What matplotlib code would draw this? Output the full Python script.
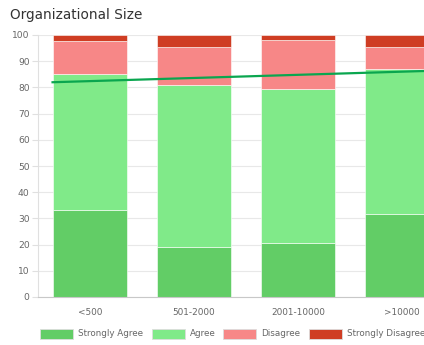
import numpy as np
import matplotlib.pyplot as plt
from matplotlib.patches import Rectangle

# Data (percent of respondents)
categories = ['<500', '501-2000', '2001-10000', '>10000']
strongly_agree = [33.3, 19.1, 20.7, 31.7]
agree = [51.7, 61.9, 58.7, 55.2]
disagree = [12.7, 14.4, 18.8, 8.4]
strongly_disagree = [2.3, 4.6, 1.8, 4.7]
trend = [82.4, 83.6, 84.8, 86.0]

series_names = ['Strongly Agree', 'Agree', 'Disagree', 'Strongly Disagree']
colors = ['#62cd66', '#80ea89', '#f78787', '#cf3d23']

W, H = 424, 345
fig = plt.figure(figsize=(W / 100, H / 100), dpi=100)
# plot area runs off the right edge, as in the reference
ax = fig.add_axes([38 / W, (H - 297) / H, 416 / W, 262 / H])

x = np.arange(len(categories))
bottom = np.zeros(len(categories))
for vals, col in zip([strongly_agree, agree, disagree, strongly_disagree], colors):
    ax.bar(x, vals, width=0.72, bottom=bottom, color=col,
           edgecolor='#ffffff', linewidth=0.4, zorder=2)
    bottom += np.array(vals)

# linear trend line
coef = np.polyfit(x, trend, 1)
xt = np.array([-0.36, 3.5])
ax.plot(xt, np.polyval(coef, xt), color='#0aa64f', linewidth=1.6, zorder=3)

ax.set_xlim(-0.5, 3.5)
ax.set_ylim(0, 100)
ax.set_yticks(range(0, 101, 10))
ax.set_xticks(x)
ax.set_xticklabels(categories)
ax.tick_params(axis='y', length=4, color='#e0e0e0', labelcolor='#666666',
               labelsize=6.6, pad=2)
ax.tick_params(axis='x', length=0, labelcolor='#666666', labelsize=6.4, pad=8)
ax.grid(axis='y', color='#e8e8e8', linewidth=0.8, zorder=0)
for s in ['top', 'right']:
    ax.spines[s].set_visible(False)
ax.spines['left'].set_color('#e0e0e0')
ax.spines['bottom'].set_color('#c8c8c8')
ax.set_axisbelow(True)

fig.text(10 / W, 1 - 15 / H, 'Organizational Size', fontsize=9.8,
         color='#333333', va='center', ha='left')

# legend drawn by hand to match the reference layout
box_x = [40, 152, 223, 309]
for bx, name, col in zip(box_x, series_names, colors):
    fig.add_artist(Rectangle((bx / W, 1 - 339 / H), 33 / W, 10 / H,
                             transform=fig.transFigure, facecolor=col,
                             edgecolor='#dddddd', linewidth=0.6))
    fig.text((bx + 38) / W, 1 - 334 / H, name, fontsize=6.3, color='#666666',
             va='center', ha='left')

fig.savefig('out.png', dpi=100)
